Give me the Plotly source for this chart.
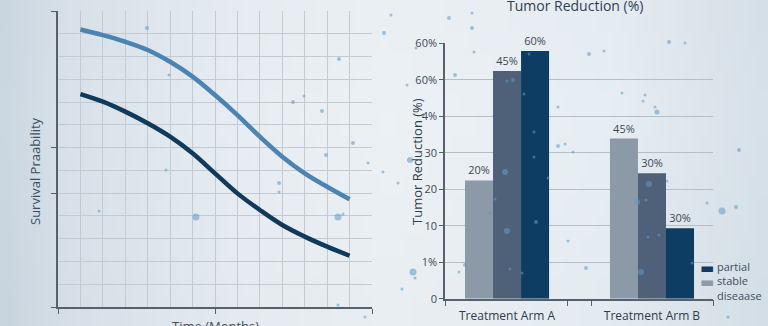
import base64, struct, zlib
import plotly.graph_objects as go

# ---------------- data ----------------
months = [1, 2, 3, 4, 5, 6, 7, 8, 9, 10, 11, 12, 13]
survival_arm_upper = [12.19, 11.94, 11.65, 11.29, 10.77, 10.12, 9.31, 8.43, 7.48, 6.60, 5.87, 5.28, 4.73]
survival_arm_lower = [9.35, 9.02, 8.58, 8.07, 7.48, 6.75, 5.87, 4.99, 4.26, 3.60, 3.09, 2.65, 2.25]

arm_positions = [0, 1]
arm_labels = ["Treatment Arm A", "Treatment Arm B"]
stable_vals = [3.24, 4.39]
mid_vals = [6.24, 3.44]
partial_vals = [6.79, 1.93]
stable_text = ["20%", "45%"]
mid_text = ["45%", "30%"]
partial_text = ["60%", "30%"]

y2_tickvals = [0, 1, 2, 3, 4, 5, 6, 7]
y2_ticktext = ["0", "1%", "10", "20", "30", "4%", "60%", "60%"]

legend_names = ["partial", "stable", "diseaase"]

# decorative sparkles (canvas pixel coords)
sparkle_x = [147, 169, 339, 293, 304, 322, 353, 326, 368, 166, 279, 279, 99, 196, 338, 343, 338, 365,
             391, 384, 449, 472, 472, 416, 474, 455, 407, 507, 513, 524, 529, 534, 534, 558, 548, 558, 565,
             410, 383, 398, 505, 495, 490, 507, 536, 413, 415, 402, 465, 459, 510, 522, 568, 586, 589, 604,
             669, 685, 622, 645, 643, 655, 657, 649, 637, 646, 667, 648, 659, 641, 692, 739, 707, 722, 736,
             728, 573]
sparkle_y = [28, 75, 59, 102, 96, 111, 143, 155, 163, 170, 192, 183, 211, 217, 217, 214, 305, 317,
             15, 33, 18, 13, 28, 48, 52, 75, 85, 81, 80, 94, 54, 132, 157, 107, 178, 146, 144,
             160, 172, 183, 172, 199, 213, 231, 222, 272, 278, 289, 265, 272, 269, 273, 241, 268, 54, 51,
             42, 43, 93, 95, 101, 107, 112, 184, 202, 200, 181, 237, 235, 272, 263, 150, 203, 211, 207,
             317, 152]
sparkle_size = [4, 3, 4, 4, 3, 4, 4, 4, 3, 3, 3, 4, 3, 7, 7, 3, 3, 3,
                3, 4, 4, 3, 4, 3, 3, 4, 3, 3, 4, 3, 3, 3, 3, 3, 3, 4, 3,
                6, 3, 3, 6, 3, 3, 6, 4, 7, 3, 3, 4, 3, 3, 3, 3, 4, 4, 3,
                4, 3, 3, 3, 3, 3, 5, 6, 6, 3, 3, 3, 3, 6, 3, 4, 3, 7, 4,
                3, 3]

# ---------------- background gradient image ----------------
def lerp_stops(t, stops):
    for i in range(len(stops) - 1):
        t0, c0 = stops[i]
        t1, c1 = stops[i + 1]
        if t0 <= t <= t1:
            f = (t - t0) / (t1 - t0) if t1 > t0 else 0
            return [c0[k] + (c1[k] - c0[k]) * f for k in range(3)]
    return list(stops[-1][1])

def make_png(w, h, stops):
    raw = b""
    for j in range(h):
        v = j / (h - 1)
        row = b"\x00"
        for i in range(w):
            c = lerp_stops(i / (w - 1), stops)
            shade = 3 * (1 - abs(v - 0.35) * 1.6)
            row += bytes(max(0, min(255, int(round(ch + shade)))) for ch in c)
        raw += row
    def chunk(tag, data):
        return struct.pack(">I", len(data)) + tag + data + struct.pack(">I", zlib.crc32(tag + data) & 0xffffffff)
    png = b"\x89PNG\r\n\x1a\n" + chunk(b"IHDR", struct.pack(">IIBBBBB", w, h, 8, 2, 0, 0, 0)) \
          + chunk(b"IDAT", zlib.compress(raw, 9)) + chunk(b"IEND", b"")
    return "data:image/png;base64," + base64.b64encode(png).decode()

bg_stops = [(0.0, (200, 212, 222)), (0.08, (214, 223, 231)), (0.3, (228, 234, 239)),
            (0.5, (233, 238, 242)), (0.8, (228, 235, 240)), (1.0, (212, 222, 230))]
bg_uri = make_png(96, 16, bg_stops)

# ---------------- figure ----------------
col_stable, col_mid, col_partial = "#8c99a6", "#4f6179", "#0d3d63"
fig = go.Figure()

fig.add_trace(go.Scatter(x=months, y=survival_arm_upper, mode="lines", line=dict(color="#4a84b4", width=4.5, shape="spline"),
                         xaxis="x", yaxis="y", showlegend=False, hoverinfo="skip"))
fig.add_trace(go.Scatter(x=months, y=survival_arm_lower, mode="lines", line=dict(color="#0f3a5c", width=4.5, shape="spline"),
                         xaxis="x", yaxis="y", showlegend=False, hoverinfo="skip"))

bar_font = dict(family="Open Sans", size=11, color="#3b4856")
for vals, txt, col, nm in [(stable_vals, stable_text, col_stable, "stable disease"),
                           (mid_vals, mid_text, col_mid, "response"),
                           (partial_vals, partial_text, col_partial, "partial")]:
    fig.add_trace(go.Bar(x=arm_positions, y=vals, text=txt, textposition="outside", textfont=bar_font,
                         marker=dict(color=col, line=dict(width=0)), name=nm, showlegend=False,
                         xaxis="x2", yaxis="y2", cliponaxis=False))

# extra tick marks on bar x-axis
fig.add_trace(go.Scatter(x=[-0.428, 1.421], y=[None, None], xaxis="x3", yaxis="y2", showlegend=False, hoverinfo="skip"))

fig.add_trace(go.Scatter(x=sparkle_x, y=sparkle_y, mode="markers",
                         marker=dict(size=sparkle_size, color="rgba(95,155,198,0.8)", line=dict(width=0)),
                         xaxis="x4", yaxis="y4", showlegend=False, hoverinfo="skip", cliponaxis=False))

axis_line = "#56616c"
grid_col = "#c3cad1"
tick_font = dict(family="Open Sans", size=11, color="#3d4a56")

legend_font = dict(family="Open Sans", size=11, color="#3f4f5e")
legend_text = "<br>".join(legend_names)
legend_squares = (f'<span style="color:{col_partial};font-family:DejaVu Sans;font-size:15px">▬</span><br>'
                  f'<span style="color:{col_stable};font-family:DejaVu Sans;font-size:15px">▬</span>')

fig.update_layout(
    width=768, height=326,
    margin=dict(l=0, r=0, t=0, b=0, autoexpand=False),
    paper_bgcolor="#e4eaef",
    plot_bgcolor="rgba(0,0,0,0)",
    barmode="group", bargap=0.42, bargroupgap=0,
    showlegend=False,
    font=dict(family="Open Sans", color="#3d4a56"),
    images=[dict(source=bg_uri, xref="paper", yref="paper", x=0, y=1, sizex=1, sizey=1,
                 sizing="stretch", layer="below", xanchor="left", yanchor="top")],
    xaxis=dict(domain=[58 / 768, 372 / 768], range=[0, 14], anchor="y",
               tickvals=[0, 7, 14], ticks="outside", ticklen=5, tickcolor=axis_line, showticklabels=False,
               showgrid=True, gridcolor=grid_col, gridwidth=1,
               minor=dict(dtick=1, showgrid=True, gridcolor=grid_col, gridwidth=1, ticks=""),
               showline=True, linecolor=axis_line, linewidth=1.5, zeroline=False, fixedrange=True),
    yaxis=dict(domain=[1 - 307 / 326, 1 - 11 / 326], range=[0, 13], anchor="x",
               tickvals=[0, 5, 7, 13], ticks="outside", ticklen=5, tickcolor=axis_line, showticklabels=False,
               showgrid=True, gridcolor=grid_col, gridwidth=1,
               minor=dict(dtick=1, showgrid=True, gridcolor=grid_col, gridwidth=1, ticks=""),
               showline=True, linecolor=axis_line, linewidth=1.5, zeroline=False, fixedrange=True),
    xaxis2=dict(domain=[445 / 768, 713 / 768], range=[-0.428, 1.421], anchor="y2",
                tickvals=arm_positions, ticktext=arm_labels, ticks="", tickfont=dict(family="Open Sans", size=12, color="#2f3c49"),
                ticklabelstandoff=5,
                showgrid=False, showline=True, linecolor=axis_line, linewidth=1.5, zeroline=False, fixedrange=True),
    xaxis3=dict(overlaying="x2", range=[-0.428, 1.421], anchor="y2", side="bottom",
                tickvals=[-0.428, 0.42, 0.58, 1.421], ticks="outside", ticklen=6, tickcolor=axis_line, tickwidth=1.2,
                showticklabels=False, showgrid=False, showline=False, zeroline=False, fixedrange=True),
    yaxis2=dict(domain=[1 - 298.7 / 326, 1 - 43.3 / 326], range=[0, 7], anchor="x2",
                tickvals=y2_tickvals, ticktext=y2_ticktext, ticks="outside", ticklen=4, tickcolor=axis_line,
                tickfont=tick_font, showgrid=True, gridcolor="#b6bec6", gridwidth=1,
                showline=True, linecolor=axis_line, linewidth=1.5, zeroline=False, fixedrange=True),
    xaxis4=dict(domain=[0, 1], range=[0, 768], anchor="y4", visible=False, fixedrange=True),
    yaxis4=dict(domain=[0, 1], range=[326, 0], anchor="x4", visible=False, fixedrange=True),
    annotations=[
        dict(text="Survival Praability", x=35 / 768, y=1 - 171 / 326, xref="paper", yref="paper",
             textangle=-90, showarrow=False, font=dict(family="Open Sans", size=13, color="#3d4f62"),
             xanchor="center", yanchor="middle"),
        dict(text="Time (Months)", x=215 / 768, y=1 - 326 / 326, xref="paper", yref="paper",
             showarrow=False, font=dict(family="Open Sans", size=13, color="#3d4f62"),
             xanchor="center", yanchor="middle"),
        dict(text="Tumor Reduction (%)", x=575 / 768, y=1 - 5 / 326, xref="paper", yref="paper",
             showarrow=False, font=dict(family="Open Sans", size=14, color="#2f3f50"),
             xanchor="center", yanchor="middle"),
        dict(text="Tumor Reduction (%)", x=417 / 768, y=1 - 162 / 326, xref="paper", yref="paper",
             textangle=-90, showarrow=False, font=dict(family="Open Sans", size=13, color="#2f3f50"),
             xanchor="center", yanchor="middle"),
        dict(text=legend_text, x=715 / 768, y=1 - 281 / 326, xref="paper", yref="paper", align="left",
             showarrow=False, font=legend_font, xanchor="left", yanchor="middle"),
        dict(text=legend_squares, x=715 / 768, y=1 - 275 / 326, xref="paper", yref="paper", align="right",
             showarrow=False, font=legend_font, xanchor="right", yanchor="middle", borderpad=0),
    ],
)

fig.write_html("out.html")
